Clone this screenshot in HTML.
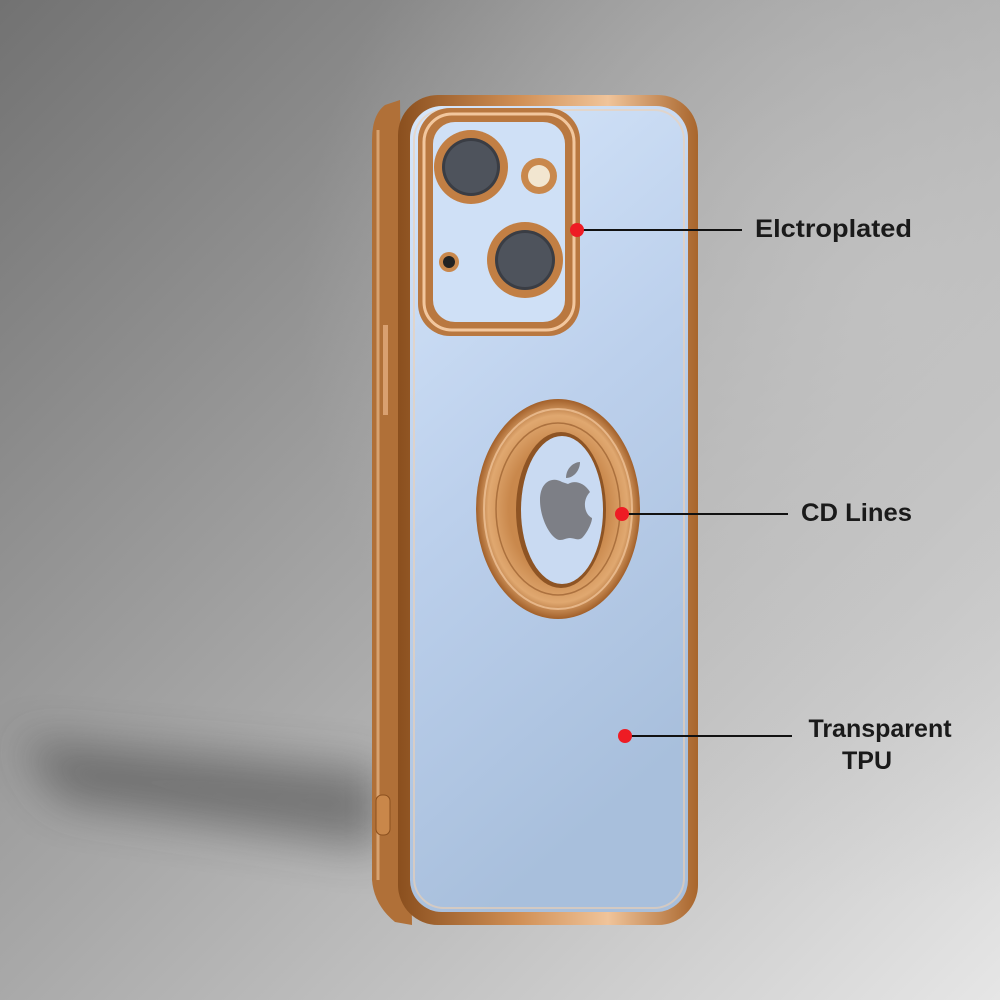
<!DOCTYPE html>
<html><head><meta charset="utf-8"><style>
html,body{margin:0;padding:0;width:1000px;height:1000px;overflow:hidden}
</style></head><body>
<svg width="1000" height="1000" viewBox="0 0 1000 1000" xmlns="http://www.w3.org/2000/svg">
<defs>
<linearGradient id="bg" x1="0" y1="0" x2="1" y2="1">
<stop offset="0" stop-color="#727272"/><stop offset="0.5" stop-color="#a9a9a9"/><stop offset="1" stop-color="#e6e6e6"/>
</linearGradient>
<radialGradient id="bg2" cx="0.9" cy="0.3" r="0.6">
<stop offset="0" stop-color="#c4c4c4" stop-opacity="0.8"/><stop offset="1" stop-color="#c4c4c4" stop-opacity="0"/>
</radialGradient>
<linearGradient id="back" x1="0" y1="0" x2="0.3" y2="1">
<stop offset="0" stop-color="#d6e6fa"/><stop offset="0.5" stop-color="#bcd0ec"/><stop offset="1" stop-color="#a8bfdc"/>
</linearGradient>
<linearGradient id="gold" x1="0" y1="0" x2="1" y2="0">
<stop offset="0" stop-color="#8a4f1e"/><stop offset="0.4" stop-color="#d08f55"/><stop offset="0.7" stop-color="#f0c49a"/><stop offset="1" stop-color="#a8652c"/>
</linearGradient>
<radialGradient id="ring" cx="0.5" cy="0.5" r="0.5">
<stop offset="0.6" stop-color="#c9884c"/><stop offset="0.85" stop-color="#e0a870"/><stop offset="1" stop-color="#a2602a"/>
</radialGradient>
<filter id="blur" x="-50%" y="-50%" width="200%" height="200%"><feGaussianBlur stdDeviation="22"/></filter>
</defs>
<rect width="1000" height="1000" fill="url(#bg)"/>
<rect width="1000" height="1000" fill="url(#bg2)"/>
<path d="M20 740 L380 770 L380 850 L60 800 Z" fill="#3a3a3a" opacity="0.5" filter="url(#blur)"/>
<!-- side face -->
<path d="M400 100 L385 105 Q372 115 372 140 L372 880 Q374 905 395 922 L412 925 Z" fill="#b07038"/>
<path d="M378 130 L378 880" stroke="#e8b888" stroke-width="3" opacity="0.7"/>
<rect x="376" y="795" width="14" height="40" rx="6" fill="#c9874a" stroke="#8a4f1e"/>
<rect x="383" y="325" width="5" height="90" fill="#d9a070"/>
<!-- back -->
<rect x="398" y="95" width="300" height="830" rx="40" fill="url(#gold)"/>
<rect x="410" y="106" width="278" height="806" rx="32" fill="url(#back)"/>
<rect x="414" y="110" width="270" height="798" rx="30" fill="none" stroke="#f0d0b0" stroke-width="2" opacity="0.6"/>
<!-- camera block -->
<rect x="418" y="108" width="162" height="228" rx="32" fill="#b97840"/>
<rect x="424" y="114" width="150" height="216" rx="28" fill="none" stroke="#f2c79e" stroke-width="3"/>
<rect x="433" y="122" width="132" height="200" rx="22" fill="#cfe0f6"/>
<circle cx="471" cy="167" r="37" fill="#c27f44"/><circle cx="471" cy="167" r="29" fill="#3a3d44"/><circle cx="471" cy="167" r="26" fill="#4e535c"/>
<circle cx="525" cy="260" r="38" fill="#c27f44"/><circle cx="525" cy="260" r="30" fill="#3a3d44"/><circle cx="525" cy="260" r="27" fill="#4e535c"/>
<circle cx="539" cy="176" r="18" fill="#c9884c"/><circle cx="539" cy="176" r="11" fill="#f2e6d0"/>
<circle cx="449" cy="262" r="10" fill="#c9884c"/><circle cx="449" cy="262" r="6" fill="#222"/>
<!-- ring -->
<ellipse cx="558" cy="509" rx="82" ry="110" fill="url(#ring)"/>
<ellipse cx="558" cy="509" rx="74" ry="100" fill="none" stroke="#f3c9a0" stroke-width="2" opacity="0.7"/>
<ellipse cx="558" cy="509" rx="62" ry="86" fill="none" stroke="#8e5424" stroke-width="1.5" opacity="0.6"/>
<ellipse cx="561" cy="510" rx="45" ry="78" fill="#8e5424"/>
<ellipse cx="562" cy="510" rx="41" ry="74" fill="#c9daf2"/>
<!-- apple logo -->
<path d="M562 482 C552 476 540 482 540 500 C540 520 552 540 560 540 C564 540 566 538 570 538 C574 538 578 541 582 538 C588 532 592 522 592 518 C584 514 582 500 590 492 C584 482 574 480 568 484 Z" fill="#7d7f86"/>
<path d="M566 478 C566 468 574 462 580 462 C580 470 574 478 566 478 Z" fill="#7d7f86"/>
<!-- callouts -->
<g stroke="#111" stroke-width="2">
<line x1="577" y1="230" x2="742" y2="230"/>
<line x1="622" y1="514" x2="788" y2="514"/>
<line x1="625" y1="736" x2="792" y2="736"/>
</g>
<g fill="#ee1c24">
<circle cx="577" cy="230" r="7"/><circle cx="622" cy="514" r="7"/><circle cx="625" cy="736" r="7"/>
</g>
<g font-family="Liberation Sans, sans-serif" font-size="25" fill="#1a1a1a" font-weight="bold">
<text x="755" y="237" textLength="157" lengthAdjust="spacingAndGlyphs">Elctroplated</text>
<text x="801" y="521" textLength="111" lengthAdjust="spacingAndGlyphs">CD Lines</text>
<text x="880" y="737" text-anchor="middle">Transparent</text>
<text x="867" y="769" text-anchor="middle">TPU</text>
</g>
</svg>
</body></html>
